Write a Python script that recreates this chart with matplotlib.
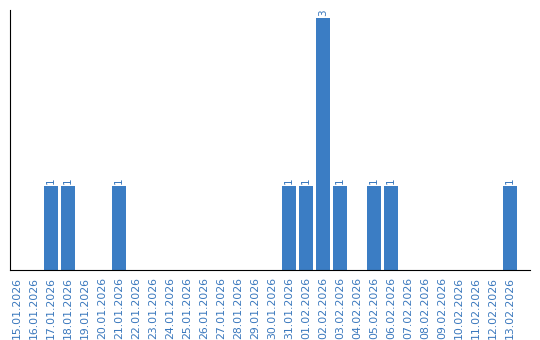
import matplotlib
matplotlib.use("Agg")
import matplotlib.pyplot as plt

# dates shown on the x axis
dates = ["15.01.2026", "16.01.2026", "17.01.2026", "18.01.2026", "19.01.2026",
         "20.01.2026", "21.01.2026", "22.01.2026", "23.01.2026", "24.01.2026",
         "25.01.2026", "26.01.2026", "27.01.2026", "28.01.2026", "29.01.2026",
         "30.01.2026", "31.01.2026", "01.02.2026", "02.02.2026", "03.02.2026",
         "04.02.2026", "05.02.2026", "06.02.2026", "07.02.2026", "08.02.2026",
         "09.02.2026", "10.02.2026", "11.02.2026", "12.02.2026", "13.02.2026"]
counts = [0, 0, 1, 1, 0, 0, 1, 0, 0, 0, 0, 0, 0, 0, 0,
          0, 1, 1, 3, 1, 0, 1, 1, 0, 0, 0, 0, 0, 0, 1]

bar_color = "#3b7dc4"
text_color = "#3a78bd"

fig = plt.figure(figsize=(5.4, 3.4), dpi=100)
ax = fig.add_axes([10 / 540, 70 / 340, 520 / 540, 260 / 340])

x = range(len(dates))
ax.bar(x, counts, width=0.82, color=bar_color)

# value labels above the non-empty bars
for i, c in enumerate(counts):
    if c > 0:
        ax.text(i, c + 0.03, str(c), rotation=90, ha="center", va="bottom",
                fontsize=7.5, color=text_color)

ax.set_xlim(-0.41, 30.18)
ax.set_ylim(0, 3.1)
ax.set_xticks(list(x))
ax.set_xticklabels(dates, rotation=90, fontsize=7.8, color=text_color)
ax.tick_params(axis="x", length=0, pad=5)
ax.set_yticks([])
ax.spines["top"].set_visible(False)
ax.spines["right"].set_visible(False)

fig.savefig("out.png", dpi=100)
